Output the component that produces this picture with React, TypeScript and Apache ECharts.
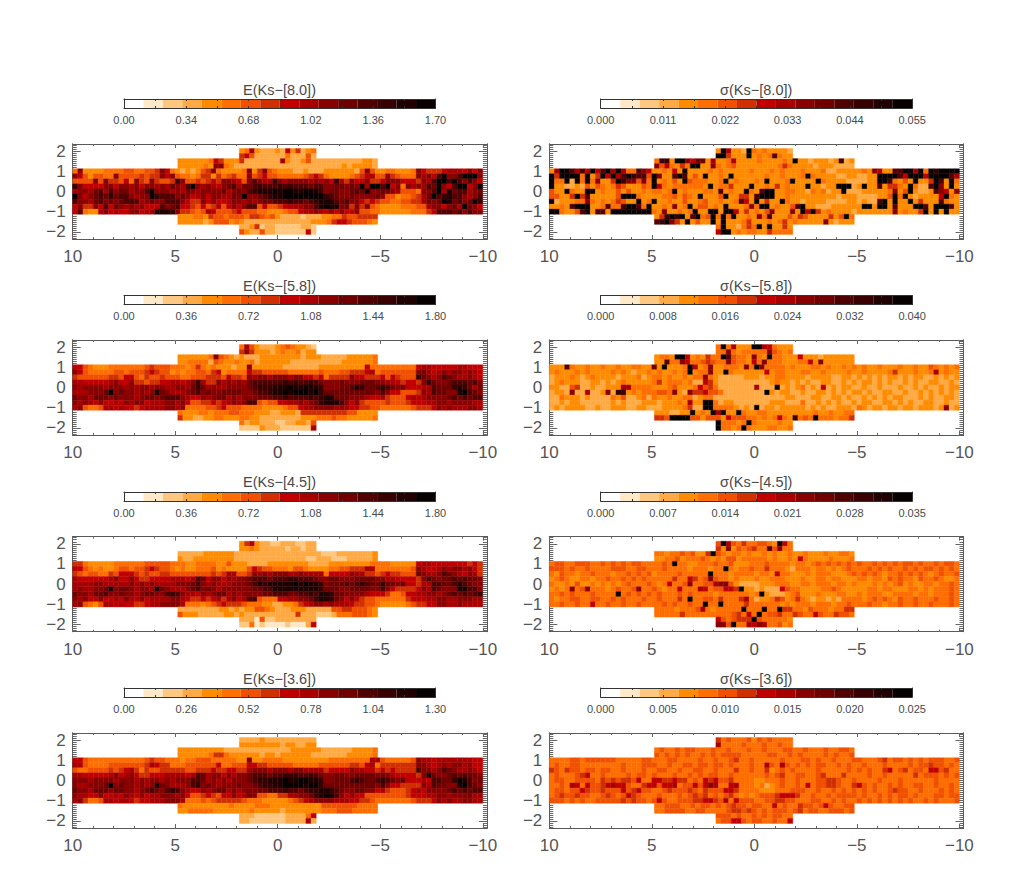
import React, { useEffect, useRef } from "react";
import * as echarts from "echarts";

// Colour table: sixteen steps, one per colour-bar segment.
const PALETTE = ["#ffffff","#ffe9c8","#ffc880","#ffaa44","#ff8c00","#ff6e00","#f05000","#d03000","#c00000","#a80000","#880000","#700000","#500000","#380000","#200000","#080000"];
const LONGITUDE_LABELS = [10, 5, 0, -5, -10];
const LATITUDE_LABELS = [2, 1, 0, -1, -2];

// Each map: rows from b=+2 to b=-2, each character is the colour-bin (hex, 0..f).
const E80 = [
"459433343847345",
"786333333533363",
"4444445874 4473333333 9433463333 333333443",
"4444454aa5 4333333333 3333333333 334344443",
"5a44445555 6655667a85 4343467a54 4445a47a65 4443343334 4444436a64 4554445a87 7789998a8a",
"a8646655a6 6667677a8a 6554577475 6755a67866 5555567875 4444567896 6a76555a9a 8cfaacfffa",
"6666a6a776 85a76a7667 da6676787a a986aca99d a9aaaa9a9a 8d97a88a77 8aaa8887a9 cffcfcaca8",
"da8888aa8a a9a8aa9a9b a9cfa9a98a bc9bbcdccc dcdcccbcca abbabaf9ff cf8a5a9a9c bfa8cff8af",
"9aa9bc9cab b9aacfaaa9 a9ba9aaaab 9abacdeeef effeeffeda bbaabcbfaa bba96665aa cf9ebcc9ab",
"fa8abcbdbc ca9aafdccc aba89a8aa9 9bafaabcde effffffffd cbaabaaaab a66455679b fcdecca9ac",
"caa9bcabab ccc9abaacc ca877a8a88 9aa9a9abbc ccdccbcdee ecbcaa8787 665566779b abfebcabfd",
"8a77a8c8ba 9a9a888cab c887686796 8a8acc6866 78999aacef eeab7a7a65 4444555669 aa8ab9fba8",
"8c5449a898 8aa899eeed a776569866 6786665544 4566899a98 a8a88a6655 4444445557 8cccbcacaa",
"444554766 5666577656 4333323334 4557667777 67665",
"4444434666 4543333333 3333334445 788766654",
"334723322222332",
"643363322222282",
];
const S80 = [
"4f9443f54544443",
"ff7444f4545c544",
"5dd4ffa8bb 4944594444 5444454f44 344434d34",
"a685475ff4 4a54564444 4444575444 434443333",
"49ffc9c8f8 cf9f955ca8 445484f444 4545444445 4445454445 4445334444 454a844ccf f9f5fdffff",
"f7ffff5f47 f8f9cfdcc6 fa44cfc464 f4454f4444 4454454445 f544443344 3344ffffc8 fff8ffffc9",
"f55f3f5f5a 447fdaa6a5 f45464f655 5445f45444 54f4445f44 44f5444433 3344ffc546 4f447fc4f5",
"f443343646 5457644465 f854555555 4f4557444f 4454745444 f44344fff3 4f44c47754 f533cfa4f4",
"644f544ff4 5446464454 5545f45444 554c4544f5 4cff445544 3545344f33 3444445a46 f4334ca84a",
"66447f7c44 4446fff544 445564654f 4446f44774 cfff445444 4444443444 3333446f5f 4344448f54",
"f344455a54 5457644f45 f445446445 6445445c84 f4744f5443 4444333344 3433cf4f44 f47444c544",
"4454cfff44 5c55cffc5f 4454a45f46 6454f4445a 5ff45446cf 4433344444 4ff4ff4c44 4ffc4fffc4",
"ff5446cf4c c4ffffffff 54a44545f4 4ff4ff8474 546a444a4f 8f74544443 4444444a45 447f4f4f44",
"47dfdf4cf5 6f5f5f4454 a5c4446476 4444746f55 433443444",
"cdfa74f464 4f4f444574 4454574544 444a43444",
"5f443575f4f4474",
"8ff454554475555",
];
const E58 = [
"596433345654432",
"7a7444345445344",
"4444445a65 4343334444 4444344433 333444445",
"4455553654 4544534444 4433333333 334444445",
"8865444555 5555676665 5545754544 4344a44444 4333333344 4444444855 5555555899 8888899888",
"a865555566 5666787664 5455665784 5555877666 6655555565 5566777895 6666666ab9 89a9aa9a98",
"7666666776 8865766766 6556667776 8776a9aa9a aa9aa88785 7777a88777 8687666dba 9acba99a98",
"99888889a8 8a77677889 989ad977a9 a9a9bccccc cdcdccdcba aabaaabbba a9987887ad baabcccbca",
"a9aaaa9aaa 9a9aa9aa99 aa9bdb9a99 aaaabcddde eefeefeeda aabbcedbbc dcbab88899 cbbbdedb9b",
"999aaabfab aa9a9aeba9 99abcabaab bbbaabccde efefffefdb bbbbbbbbba ca886667a9 cbbaaefcba",
"baa9bbbaba aa9abbabcc ca988a9abb 9a9aaabbbc cdccccdcde ebbbaaa988 976668989a aaabcbcbcc",
"a9a98a8898 a9aa8999aa 9a86677878 9a9acc6566 8899a9abde eeca8a7666 6766678889 9aa9aaaa99",
"9a65569989 88789999aa 9a55556678 6665555444 4566899aaa a9a9887766 5555556777 8a9a999aa9",
"5444554555 6655544433 4443777777 777664444",
"7443344554 4455443333 3333444555 655444445",
"534433322334436",
"222243332222229",
];
const S58 = [
"5f59444ff985444",
"55a5455555a6545",
"4554ff8454 755fc6554a 54f5544484 443444444",
"44c55a8556 7655a65548 5a55544455 84a444444",
"444c544544 5445445544 b4f4445f84 5a445554a5 fa55554544 4554544545 4544544454 4544654545",
"4544454544 4454543445 4544545f45 5a44f54444 4484554445 5445444454 4544445744 4544594544",
"3444543454 4443444534 5545445455 a543333344 4344554444 3444433443 4343434434 3443343434",
"3454443344 3434544444 5745554533 8743333333 3334544343 4334433434 3443434334 3433443343",
"4433673343 3444995555 4445644458 6753333333 9333f34345 3438343443 3433433343 3434334344",
"3443a33933 4a3dd45455 5665a43a77 8665333333 33f4344334 3344343434 4343344334 3343434343",
"3354443433 3354633453 5445445534 5533333333 3333334433 3443344343 3434343443 3343433443",
"3343443333 3343433344 4344454944 ff53443333 3334443335 3343434334 3443344343 4334433433",
"3434444334 3344433443 3344445733 ff55554343 f344344444 3434334443 5434434434 4344434a34",
"4443344f45 4f9f44f544 5544444444 454454455",
"776ffff664 6664866655 4545854d56 5f5554557",
"f55545f54444544",
"f5545f544455445",
];
const E45 = [
"479433223332233",
"445433333233233",
"3333344444 4333333333 3333333322 233333334",
"4334444444 4333333333 3333322333 222333334",
"7754444455 5555666665 5544555544 6444333344 4444443333 4444444455 5544444899 8888888787",
"8865454456 6566787665 4544555645 4444687665 5546654444 5566777995 5555556a98 89a9aa9a87",
"7656655768 8876766776 6666666767 99667a9a9a aa99a99995 8888a99776 7877666ba9 9acba98a97",
"98888889a8 8a87788889 9989cb8aa8 a9aabcccbc ccddcccbaa bbaaabbbba a9988887ac babbcbcbba",
"9999aa9999 9a9a9a9999 aaabca9a99 9aaabcedee eeefefeeda bbbcbcdcbb dbbab88799 ccbbcecbaa",
"9a99aabeab ba9aa9eba9 99abcaba9a aaaaabbcce eeeeeeeedb bbaabbbbaa ca877778a9 cbaaaeecca",
"baa9bbcaab aa9abbaacd ca998a9abb 9a9aaaabbc ccbbccdcee dbbaaaa988 875568899a a9abcbcbcd",
"a9a88a8898 a98a89999a a987787897 9a89cc6555 8899aabdee dba8a87665 5555578889 9aa99aaa99",
"9a65469989 8877899aaa a955545678 7776555443 3445789aa9 a999877665 4444456778 8aa99a9999",
"3333333344 3434466543 3344433333 667766654",
"6444333334 4343333333 3337333222 355566654",
"333162233333333",
"225121111211138",
];
const S45 = [
"6f9657556654f85",
"74a4656755c6a55",
"5545565644 7f65455454 4545445445 444544554",
"4455645556 5454664555 5545445485 444454445",
"5665566655 6565656655 5565f55445 5565564445 5565555455 4565656565 6556565656 6565565665",
"6665655655 5566655665 5565555455 5455f54556 5575554355 5455454565 5565656556 5656656565",
"5465545565 5545565656 4555565555 5f55545555 4554855444 5455544456 5656545565 6565456556",
"4565445545 5655656565 5555755875 6a65545444 5445554445 4455455444 5545546565 5465565445",
"5445464454 5454565556 5458556a55 669aa64333 3444555445 5455545545 4445454564 5445545565",
"4545a56a55 5456556a55 6545585559 8566887f44 3433386554 4445565444 4455455444 5545455565",
"5565655565 555f565656 5655565655 5545555554 5f43334564 4454445544 5455544555 5455455565",
"5455665566 5565655565 5655575f55 6657555795 3445764575 4344343555 5456565465 5655565565",
"5565565585 5655655655 5565655655 f55f555575 5555545455 5455545565 5565545565 5655655565",
"5555455569 5455555f55 5f55f77554 655545577",
"5555575555 5555567585 f566755765 586557665",
"8656777f6555554",
"aa6f5598a955645",
];
const E36 = [
"333343333333333",
"444444443443344",
"4444444443 3333333333 3344444433 333344445",
"4444445775 4444443443 4444443333 333444445",
"8865555555 5555676655 5455666555 5544a44555 5444444444 5555555599 6555556a99 8999999988",
"9965555666 6666798775 5566666685 5666887766 6665555566 6666776895 7777777aa9 89a9aa9a88",
"6556666767 8975766777 7766777877 88779aaa9a aa9aa99997 8888a99887 8787777caa 9acba99a98",
"99888889a8 9a87788899 9989cb9aa8 a9aabcccbc cdddccdcba abbaabbbba ba988887ae baabcbcbba",
"aaa9aaaa9a aa9a9aa9a9 aaaccb9a9a 9aaabcddee efeeffeeda abbbcdcbbc dcbab88898 ccbbdfecab",
"a99aaabfab aa9a9aeba9 99acdaba9a aabaabcdde effffeffdb bbbbbbbbba ca887777a9 cbbaaefcba",
"baa9bbbabb aa9abcbacd ca988a9abb 9a9aaabbcc cdccbcddee dcbaabbaa8 976667898a aaabcbcbcc",
"a9988a8898 a98a899aaa 9a86678768 8a89ba6655 7799aabdef eca8a88666 6666678889 9aa9aaab99",
"9a75569989 98788999aa a955565677 7776555444 4456789aaa a999887765 5555556777 8a9a99aa99",
"5444444444 5444455544 4444444466 666665555",
"4455555444 4444544444 3444444455 566655555",
"333222222333358",
"332222222333393",
];
const S36 = [
"756555646565555",
"955556555655655",
"5655656655 5655655565 5655566556 555655665",
"6565656556 5656666555 5566556565 555656556",
"5555665666 6665555566 5556655556 5565567556 5555565556 6565565556 6555675665 6565666556",
"5655665555 5555655566 6556556656 6566565556 5596596565 6566556565 5655565555 6566766565",
"7657665665 6655655565 5665565566 5565557556 5574565655 5565555565 6565578567 5665886755",
"5655567855 6555565665 6555655656 5665565555 5565675566 5567555755 5565565555 5756665656",
"5665566665 7676776855 8877877565 8786675555 4455565565 5566776556 5555655565 5555565555",
"5565985866 7898865578 8688956686 8a95589555 4534565565 8566776557 8656556565 5665565565",
"5665668766 7666867866 5567666765 7666887555 5444555666 5565565656 5656556766 5565556565",
"5676676655 6765687655 5655565676 7565675454 5666788875 5655656666 5655656566 5655566566",
"6665656556 6666767665 6865566677 8876958666 5566776655 5665565655 6565656565 6556565556",
"5566655656 6565676656 6558565576 656865566",
"5566665566 5555677676 5656665675 665566656",
"666565565656655",
"566886566556558",
];

// Colour-bar maxima and panel titles, left column then right column, top to bottom.
const TITLES_E = ["E(Ks−[8.0])", "E(Ks−[5.8])", "E(Ks−[4.5])", "E(Ks−[3.6])"];
const TITLES_S = ["σ(Ks−[8.0])", "σ(Ks−[5.8])", "σ(Ks−[4.5])", "σ(Ks−[3.6])"];
const MAX_E = [1.7, 1.8, 1.8, 1.3];
const MAX_S = [0.055, 0.04, 0.035, 0.025];
const ROWS_E = [E80, E58, E45, E36];
const ROWS_S = [S80, S58, S45, S36];

const PLOT_TOP = [144, 340, 536.7, 733];
const BAR_TOP = [99, 295.7, 492, 688];
const TITLE_Y = [90, 286, 482, 679];
const COLS = [
  { plotLeft: 72.7, barLeft: 124, decimals: 2, titles: TITLES_E, maxima: MAX_E, rows: ROWS_E },
  { plotLeft: 549.3, barLeft: 600.7, decimals: 3, titles: TITLES_S, maxima: MAX_S, rows: ROWS_S },
];
const FONT = "Liberation Sans";
const INK = "#4a4a4a";

function seq(from: number, to: number, step: number) {
  const out: number[] = [];
  const n = Math.round((to - from) / step);
  for (let i = 0; i <= n; i++) out.push(+(from + i * step).toFixed(4));
  return out;
}
const signed = (v: number) => (v < 0 ? "−" + Math.abs(v) : String(v));

function cells(rows: string[], max: number) {
  const out: number[][] = [];
  rows.forEach((raw, r) => {
    const row = raw.replace(/ /g, "");
    const n = r < 2 || r > 14 ? 15 : r < 4 || r > 12 ? 39 : 80;
    const b = 2 - r * 0.25;
    for (let i = 0; i < Math.min(n, row.length); i++) {
      const lev = parseInt(row[i], 16);
      if (isNaN(lev)) continue;
      out.push([n * 0.125 - (i + 0.5) * 0.25, b, ((lev + 0.5) / 16) * max]);
    }
  });
  return out;
}

function buildOption() {
  const grid: any[] = [], xAxis: any[] = [], yAxis: any[] = [], series: any[] = [], title: any[] = [];
  const line = { show: true, onZero: false, lineStyle: { color: "#5a5a5a", width: 1 } };
  const noLabel = { show: false };
  const xBase = { type: "value", min: -10.2, max: 10, inverse: true, splitLine: { show: false }, axisLine: line, z: 1 };
  const yBase = { type: "value", min: -2.35, max: 2.35, splitLine: { show: false }, axisLine: line, z: 1 };
  const tickStyle = { color: "#666", width: 1 };
  const xMinor = seq(-10, 10, 1);
  const yMinor = seq(-2.3, 2.3, 0.1);

  COLS.forEach((col) => {
    col.titles.forEach((t, k) => {
      const max = col.maxima[k];
      const gi = grid.length;
      grid.push({ left: col.plotLeft, top: PLOT_TOP[k], width: 414.2, height: 95 });
      const x0 = xAxis.length, y0 = yAxis.length;
      const tick = (customValues: number[], length: number) => ({ show: true, inside: true, length, customValues, lineStyle: tickStyle });
      xAxis.push(
        { ...xBase, gridIndex: gi, position: "bottom", axisTick: tick(LONGITUDE_LABELS, 4),
          axisLabel: { show: true, customValues: LONGITUDE_LABELS, formatter: signed, fontFamily: FONT, fontSize: 17, color: "#555", margin: 9 } },
        { ...xBase, gridIndex: gi, position: "top", axisTick: tick(LONGITUDE_LABELS, 4), axisLabel: noLabel },
        { ...xBase, gridIndex: gi, position: "bottom", axisTick: tick(xMinor, 2), axisLabel: noLabel },
        { ...xBase, gridIndex: gi, position: "top", axisTick: tick(xMinor, 2), axisLabel: noLabel },
      );
      yAxis.push(
        { ...yBase, gridIndex: gi, position: "left", axisTick: tick(LATITUDE_LABELS, 8),
          axisLabel: { show: true, customValues: LATITUDE_LABELS, formatter: signed, fontFamily: FONT, fontSize: 17, color: "#555", margin: 7 } },
        { ...yBase, gridIndex: gi, position: "right", axisTick: tick(LATITUDE_LABELS, 8), axisLabel: noLabel },
        { ...yBase, gridIndex: gi, position: "left", axisTick: tick(yMinor, 4), axisLabel: noLabel },
        { ...yBase, gridIndex: gi, position: "right", axisTick: tick(yMinor, 4), axisLabel: noLabel },
      );
      series.push({
        type: "custom", xAxisIndex: x0, yAxisIndex: y0, z: 2, clip: false, silent: true,
        data: cells(col.rows[k], max),
        renderItem: (_: any, api: any) => {
          const l = api.value(0), b = api.value(1);
          const p0 = api.coord([l + 0.125, b + 0.125]);
          const p1 = api.coord([l - 0.125, b - 0.125]);
          const lev = Math.min(15, Math.floor((api.value(2) / max) * 16));
          const fill = PALETTE[lev];
          return { type: "rect", shape: { x: p0[0], y: p0[1], width: p1[0] - p0[0], height: p1[1] - p0[1] }, style: { fill, stroke: fill, lineWidth: 0.4 } };
        },
      });

      // colour bar
      const bi = grid.length;
      grid.push({ left: col.barLeft, top: BAR_TOP[k], width: 311.5, height: 9 });
      const major = seq(0, 5, 1).map((i) => +((i * max) / 5).toFixed(4));
      const minor = seq(0, 10, 1).map((i) => +((i * max) / 10).toFixed(4));
      const barX = { type: "value", gridIndex: bi, min: 0, max, splitLine: { show: false }, axisLine: { show: true, onZero: false, lineStyle: { color: "#333", width: 1 } }, z: 4 };
      const bx = xAxis.length, by = yAxis.length;
      xAxis.push(
        { ...barX, position: "bottom", axisTick: { show: true, inside: true, length: 2, customValues: minor, lineStyle: { color: "#333" } },
          axisLabel: { show: true, customValues: major, formatter: (v: number) => v.toFixed(col.decimals), fontFamily: FONT, fontSize: 11, color: INK, margin: 6 } },
        { ...barX, position: "top", axisTick: { show: true, inside: true, length: 2, customValues: minor, lineStyle: { color: "#333" } }, axisLabel: noLabel },
      );
      const barY = { type: "value", gridIndex: bi, min: 0, max: 1, splitLine: { show: false }, axisLabel: noLabel, axisTick: { show: false }, axisLine: { show: true, onZero: false, lineStyle: { color: "#333", width: 1 } }, z: 4 };
      yAxis.push({ ...barY, position: "left" }, { ...barY, position: "right" });
      series.push({
        type: "custom", xAxisIndex: bx, yAxisIndex: by, z: 2, silent: true,
        data: PALETTE.map((_, i) => [(i * max) / 16, ((i + 1) * max) / 16, i]),
        renderItem: (_: any, api: any) => {
          const p0 = api.coord([api.value(0), 1]);
          const p1 = api.coord([api.value(1), 0]);
          const fill = PALETTE[api.value(2)];
          return { type: "rect", shape: { x: p0[0], y: p0[1], width: p1[0] - p0[0], height: p1[1] - p0[1] }, style: { fill } };
        },
      });
      title.push({
        text: t, left: col.barLeft + 155.5, top: TITLE_Y[k] - 8, textAlign: "center", padding: 0,
        textStyle: { fontFamily: FONT, fontSize: 14.5, fontWeight: "normal", color: INK, lineHeight: 16 },
      });
    });
  });
  return { animation: false, backgroundColor: "#fff", title, grid, xAxis, yAxis, series };
}

export default function App() {
  const ref = useRef<HTMLDivElement>(null);
  useEffect(() => {
    const chart = echarts.init(ref.current!, undefined, { renderer: "svg" });
    chart.setOption(buildOption() as any);
    return () => chart.dispose();
  }, []);
  return <div ref={ref} style={{ position: "absolute", left: 0, top: 0, width: 1035, height: 872 }} />;
}
